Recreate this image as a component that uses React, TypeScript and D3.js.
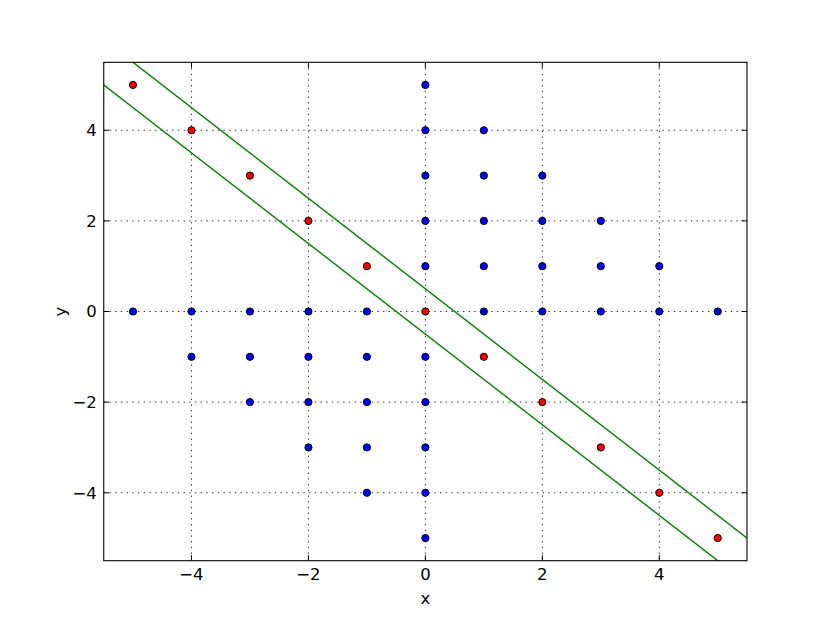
import React from "react";
import * as d3 from "d3";

const redPoints: [number, number][] = [
  [-5, 5], [-4, 4], [-3, 3], [-2, 2], [-1, 1], [0, 0],
  [1, -1], [2, -2], [3, -3], [4, -4], [5, -5],
];

const bluePoints: [number, number][] = [
  [0, 5], [0, 4], [1, 4], [0, 3], [1, 3], [2, 3],
  [0, 2], [1, 2], [2, 2], [3, 2],
  [0, 1], [1, 1], [2, 1], [3, 1], [4, 1],
  [1, 0], [2, 0], [3, 0], [4, 0], [5, 0],
  [-5, 0], [-4, 0], [-3, 0], [-2, 0], [-1, 0],
  [-4, -1], [-3, -1], [-2, -1], [-1, -1], [0, -1],
  [-3, -2], [-2, -2], [-1, -2], [0, -2],
  [-2, -3], [-1, -3], [0, -3],
  [-1, -4], [0, -4],
  [0, -5],
];

const upperLine: [number, number][] = [[-6, 6.5], [6, -5.5]];
const lowerLine: [number, number][] = [[-6, 5.5], [6, -6.5]];

const xTicks = [-4, -2, 0, 2, 4];
const yTicks = [-4, -2, 0, 2, 4];

const W = 830;
const H = 623;
const L = 103.75;
const R = 747;
const T = 62.3;
const B = 560.7;

export default function App() {
  const x = d3.scaleLinear().domain([-5.5, 5.5]).range([L, R]);
  const y = d3.scaleLinear().domain([-5.5, 5.5]).range([B, T]);
  const line = d3
    .line<[number, number]>()
    .x((d) => x(d[0]))
    .y((d) => y(d[1]));
  const fmt = (v: number) => (v < 0 ? "\u2212" + Math.abs(v) : String(v));
  const tl = 5.5;
  const font = "DejaVu Sans";
  return (
    <div style={{ position: "absolute", left: 0, top: 0 }}>
      <svg width={W} height={H} style={{ display: "block", background: "#fff" }}>
        <defs>
          <clipPath id="plotclip">
            <rect x={L} y={T} width={R - L} height={B - T} />
          </clipPath>
        </defs>
        <rect x={0} y={0} width={W} height={H} fill="#fff" />
        {xTicks.map((t) => (
          <line key={"gx" + t} x1={x(t)} x2={x(t)} y1={T} y2={B} stroke="#000" strokeWidth={0.8} strokeDasharray="1.4,4.3" />
        ))}
        {yTicks.map((t) => (
          <line key={"gy" + t} x1={L} x2={R} y1={y(t)} y2={y(t)} stroke="#000" strokeWidth={0.8} strokeDasharray="1.4,4.3" />
        ))}
        <g clipPath="url(#plotclip)">
          <path d={line(upperLine) || ""} fill="none" stroke="#008000" strokeWidth={1.4} />
          <path d={line(lowerLine) || ""} fill="none" stroke="#008000" strokeWidth={1.4} />
        </g>
        {bluePoints.map((p, i) => (
          <circle key={"b" + i} cx={x(p[0])} cy={y(p[1])} r={3.6} fill="#0000ff" stroke="#000" strokeWidth={1} />
        ))}
        {redPoints.map((p, i) => (
          <circle key={"r" + i} cx={x(p[0])} cy={y(p[1])} r={3.6} fill="#ff0000" stroke="#000" strokeWidth={1} />
        ))}
        {xTicks.map((t) => (
          <g key={"tx" + t}>
            <line x1={x(t)} x2={x(t)} y1={B} y2={B - tl} stroke="#000" strokeWidth={1} />
            <line x1={x(t)} x2={x(t)} y1={T} y2={T + tl} stroke="#000" strokeWidth={1} />
            <text x={x(t)} y={B + 19.5} textAnchor="middle" fontFamily={font} fontSize={16.5} fill="#000">
              {fmt(t)}
            </text>
          </g>
        ))}
        {yTicks.map((t) => (
          <g key={"ty" + t}>
            <line x1={L} x2={L + tl} y1={y(t)} y2={y(t)} stroke="#000" strokeWidth={1} />
            <line x1={R} x2={R - tl} y1={y(t)} y2={y(t)} stroke="#000" strokeWidth={1} />
            <text x={L - 7} y={y(t)} dy="0.36em" textAnchor="end" fontFamily={font} fontSize={16.5} fill="#000">
              {fmt(t)}
            </text>
          </g>
        ))}
        <rect x={L} y={T} width={R - L} height={B - T} fill="none" stroke="#000" strokeWidth={1.1} />
        <text x={(L + R) / 2} y={604} textAnchor="middle" fontFamily={font} fontSize={16.5} fill="#000">
          x
        </text>
        <text
          transform={`translate(${66},${(T + B) / 2}) rotate(-90)`}
          textAnchor="middle"
          fontFamily={font}
          fontSize={16.5}
          fill="#000"
        >
          y
        </text>
      </svg>
    </div>
  );
}
